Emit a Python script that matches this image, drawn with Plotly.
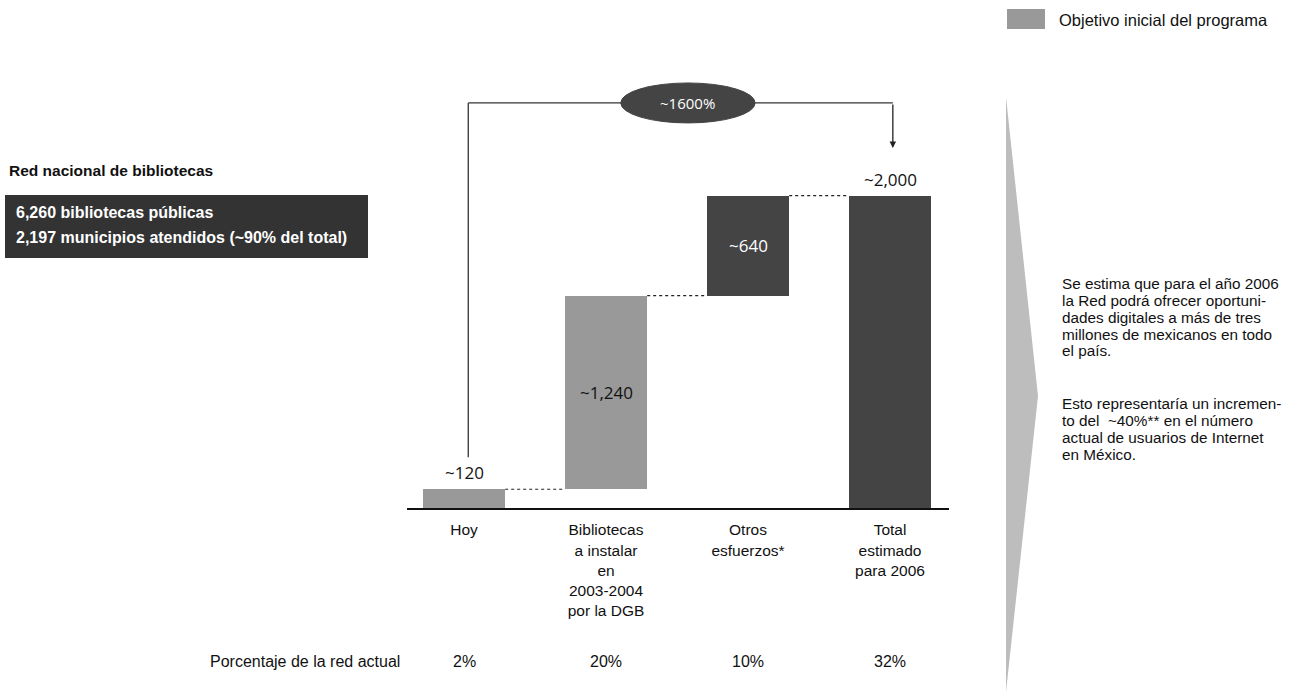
import plotly.graph_objects as go

# ---------------- data ----------------
categories = ["Hoy", "Bibliotecas<br>a instalar<br>en<br>2003-2004<br>por la DGB",
              "Otros<br>esfuerzos*", "Total<br>estimado<br>para 2006"]
values = [120, 1240, 640, 2000]
value_labels = ["~120", "~1,240", "~640", "~2,000"]
is_total = [False, False, False, True]
initial_goal = [True, True, False, False]   # part of "Objetivo inicial del programa"
pct_labels = ["2%", "20%", "10%", "32%"]
growth_label = "~1600%"

legend_label = "Objetivo inicial del programa"
box_title = "Red nacional de bibliotecas"
box_lines = ["6,260 bibliotecas públicas", "2,197 municipios atendidos (~90% del total)"]
pct_row_title = "Porcentaje de la red actual"
side_text_1 = ["Se estima que para el año 2006", "la Red podrá ofrecer oportuni-",
               "dades digitales a más de tres", "millones de mexicanos en todo", "el país."]
side_text_2 = ["Esto representaría un incremen-", "to del  ~40%** en el número",
               "actual de usuarios de Internet", "en México."]

# ---------------- styling ----------------
W, H = 1295, 693
GRAY = "#999999"
DARK = "#444444"
SANS = "Liberation Sans, Arial, sans-serif"
NUM = "Open Sans, Noto Sans, sans-serif"

def py(p):  # pixel row -> paper y
    return 1 - p / H

def px(p):
    return p / W

# waterfall bases
bases, run = [], 0
for v, t in zip(values, is_total):
    if t:
        bases.append(0)
    else:
        bases.append(run)
        run += v
tops = [b + v for b, v in zip(bases, values)]
colors = [GRAY if g else DARK for g in initial_goal]
xs = list(range(len(categories)))
BW = 0.58

fig = go.Figure()
fig.add_trace(go.Bar(x=xs, y=values, base=bases, width=BW, marker=dict(color=colors, line_width=0),
                     showlegend=False, hoverinfo="skip"))

shapes = []
annotations = []

def note(x, y, text, size, color="#111111", family=SANS, xanchor="center", xref="paper", yref="paper", **kw):
    annotations.append(dict(x=x, y=y, xref=xref, yref=yref, text=text, showarrow=False,
                            xanchor=xanchor, yanchor=kw.pop("yanchor", "middle"),
                            font=dict(family=family, size=size, color=color), **kw))

# dotted connectors between bars
for i in range(len(values) - 1):
    shapes.append(dict(type="line", xref="x", yref="y", x0=i + BW / 2, x1=i + 1 - BW / 2,
                       y0=tops[i], y1=tops[i], line=dict(color="#222222", width=1.2, dash="dot")))

# value labels
for i, lab in enumerate(value_labels):
    if i == 0 or is_total[i]:
        note(i, tops[i], lab, 17, family=NUM, xref="x", yref="y", yanchor="bottom", yshift=3)
    else:
        note(i, bases[i] + values[i] / 2, lab, 17, family=NUM, xref="x", yref="y",
             color="#111111" if initial_goal[i] else "white")

# growth bracket
total = values[-1]
bracket_y = total * 1.297
left_x, right_x = 0.03, 3.02
start_y = values[0] + 205
tip_y = total + 305
shapes.append(dict(type="line", xref="x", yref="y", x0=left_x, x1=left_x, y0=start_y, y1=bracket_y,
                   line=dict(color="#333333", width=1.3)))
shapes.append(dict(type="line", xref="x", yref="y", x0=left_x, x1=right_x, y0=bracket_y, y1=bracket_y,
                   line=dict(color="#333333", width=1.3)))
annotations.append(dict(x=right_x, y=tip_y, ax=right_x, ay=bracket_y, xref="x", yref="y",
                        axref="x", ayref="y", text="", showarrow=True, arrowhead=2, arrowsize=1,
                        arrowwidth=1.3, arrowcolor="#222222", standoff=0))
ex, eh = 1.577, 0.473
shapes.append(dict(type="circle", xref="x", yref="y", x0=ex - eh, x1=ex + eh,
                   y0=bracket_y - 128, y1=bracket_y + 128, fillcolor=DARK, line=dict(color=DARK, width=1)))
note(ex, bracket_y, growth_label, 15, color="white", family=NUM, xref="x", yref="y")

# percentages row
note(px(402), py(661), pct_row_title, 16, xanchor="right")
for i, p in enumerate(pct_labels):
    note(i, py(661), p, 16, xref="x")

# left info box
note(px(7), py(171), "<b>" + box_title + "</b>", 15.5, xanchor="left")
shapes.append(dict(type="rect", xref="paper", yref="paper", x0=px(5), x1=px(368), y0=py(258), y1=py(195),
                   fillcolor="#333333", line_width=0, layer="below"))
for k, line in enumerate(box_lines):
    note(px(14), py(213 + 24 * k), "<b>" + line + "</b>", 16, color="white", xanchor="left")

# legend
shapes.append(dict(type="rect", xref="paper", yref="paper", x0=px(1007), x1=px(1045), y0=py(29), y1=py(9),
                   fillcolor=GRAY, line_width=0))
note(px(1057), py(20), legend_label, 16.5, xanchor="left")

# chevron
shapes.append(dict(type="path", xref="paper", yref="paper",
                   path=f"M {px(1006)} {py(97)} L {px(1038)} {py(396)} L {px(1006)} {py(692)} Z",
                   fillcolor="#bdbdbd", line_width=0))

# side text
for k, line in enumerate(side_text_1):
    note(px(1060), py(283 + 17 * k), line, 15.3, xanchor="left")
for k, line in enumerate(side_text_2):
    note(px(1060), py(403 + 17 * k), line, 15.3, xanchor="left")

px_per_unit = (508 - 195.7) / total
fig.update_layout(
    width=W, height=H, margin=dict(l=0, r=0, t=0, b=0),
    paper_bgcolor="white", plot_bgcolor="white",
    shapes=shapes, annotations=annotations, bargap=0,
    xaxis=dict(domain=[px(407), px(949)], range=[-57 / 142, 3 + 59 / 142],
               tickmode="array", tickvals=xs, ticktext=categories,
               tickfont=dict(family=SANS, size=15.5, color="#111111"), ticks="",
               showline=True, linecolor="#111111", linewidth=1.5, showgrid=False, zeroline=False,
               ticklabelstandoff=7, fixedrange=True),
    yaxis=dict(domain=[py(508), 1], range=[0, 508 / px_per_unit], visible=False, showgrid=False,
               zeroline=False, fixedrange=True),
)

fig.write_html("out.html", config={"displayModeBar": False},
               post_script="document.body.style.margin='0';document.body.style.overflow='hidden';")
